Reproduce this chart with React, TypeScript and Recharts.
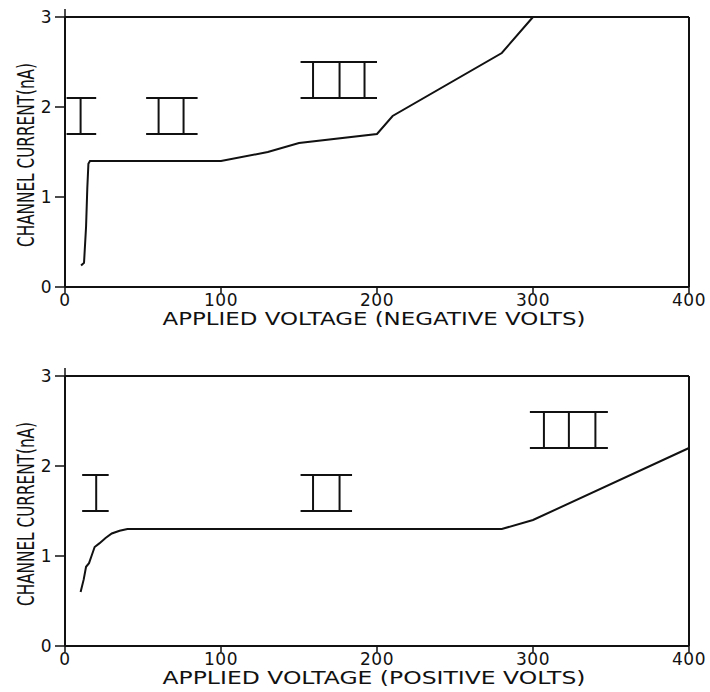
import React from 'react'
import { LineChart, Line, XAxis, YAxis, ReferenceLine, Label } from 'recharts'

// negative polarity sweep (top panel)
const negVolts = [10.3, 12.2, 13.5, 14.3, 15, 16, 100, 130, 150, 200, 210, 280, 300]
const negCurrent = [0.24, 0.27, 0.67, 1.1, 1.37, 1.4, 1.4, 1.5, 1.6, 1.7, 1.9, 2.6, 3.0]

// positive polarity sweep (bottom panel)
const posVolts = [10, 12, 13.5, 15.4, 17, 19, 22, 26, 30, 35, 40, 280, 300, 400]
const posCurrent = [0.6, 0.74, 0.88, 0.92, 1.0, 1.1, 1.14, 1.2, 1.25, 1.28, 1.3, 1.3, 1.4, 2.2]

const xTicks = [0, 100, 200, 300, 400]
const yTicks = [0, 1, 2, 3]

// conductance level glyphs: cap span, bottom/top current, post positions
const negBeams = [
  { from: 1, to: 20, low: 1.7, high: 2.1, posts: [10] },
  { from: 52, to: 85, low: 1.7, high: 2.1, posts: [60, 76] },
  { from: 151, to: 200, low: 2.1, high: 2.5, posts: [159, 176, 192] },
]
const posBeams = [
  { from: 11, to: 28, low: 1.5, high: 1.9, posts: [20] },
  { from: 151, to: 184, low: 1.5, high: 1.9, posts: [159, 176] },
  { from: 298, to: 348, low: 2.2, high: 2.6, posts: [307, 323, 340] },
]

const FONT = '"DejaVu Sans", sans-serif'
const black = '#111'

type Beam = { from: number; to: number; low: number; high: number; posts: number[] }

const toRows = (xs: number[], ys: number[]) => xs.map((v, i) => ({ v, c: ys[i] }))

function beamSegments(b: Beam) {
  const segs = [
    [{ x: b.from, y: b.high }, { x: b.to, y: b.high }],
    [{ x: b.from, y: b.low }, { x: b.to, y: b.low }],
  ]
  b.posts.forEach((p) => segs.push([{ x: p, y: b.low }, { x: p, y: b.high }]))
  return segs
}

function Panel({ data, beams, xLabel }: { data: { v: number; c: number }[]; beams: Beam[]; xLabel: string }) {
  const tickStyle = { fontSize: 17, fill: black, fontFamily: FONT, letterSpacing: 0.5 }
  return (
    <LineChart width={710} height={333} data={data} margin={{ top: 7, right: 6, bottom: 6, left: 20 }}>
      <XAxis
        dataKey="v"
        type="number"
        domain={[0, 400]}
        ticks={xTicks}
        height={40}
        tickSize={6}
        tickMargin={1}
        axisLine={{ stroke: black, strokeWidth: 2 }}
        tickLine={{ stroke: black, strokeWidth: 1.5 }}
        tick={tickStyle}
        interval={0}
      >
        <Label
          content={({ viewBox }: any) => (
            <text
              x={viewBox.x + viewBox.width / 2 - 3}
              y={viewBox.y + 38}
              textAnchor="middle"
              fontSize={17}
              fontFamily={FONT}
              fill={black}
              textLength={423}
              lengthAdjust="spacingAndGlyphs"
            >
              {xLabel}
            </text>
          )}
        />
      </XAxis>
      <XAxis
        xAxisId="t"
        orientation="top"
        type="number"
        domain={[0, 400]}
        ticks={xTicks}
        height={10}
        tickSize={8}
        axisLine={{ stroke: black, strokeWidth: 2 }}
        tickLine={{ stroke: black, strokeWidth: 1.5 }}
        tickFormatter={() => ''}
        interval={0}
      />
      <YAxis
        type="number"
        domain={[0, 3]}
        ticks={yTicks}
        width={45}
        tickSize={10}
        tickMargin={3}
        axisLine={{ stroke: black, strokeWidth: 2 }}
        tickLine={{ stroke: black, strokeWidth: 1.5 }}
        tick={tickStyle}
        interval={0}
      >
        <Label
          content={({ viewBox }: any) => {
            const cx = viewBox.x + 6
            const cy = 155
            return (
              <text
                x={cx}
                y={cy}
                transform={`rotate(-90, ${cx}, ${cy})`}
                textAnchor="middle"
                dominantBaseline="central"
                fontSize={23}
                fontFamily={FONT}
                fill={black}
                textLength={184}
                lengthAdjust="spacingAndGlyphs"
              >
                CHANNEL CURRENT(nA)
              </text>
            )
          }}
        />
      </YAxis>
      <YAxis
        yAxisId="r"
        orientation="right"
        type="number"
        domain={[0, 3]}
        ticks={yTicks}
        width={15}
        tickSize={10}
        axisLine={{ stroke: black, strokeWidth: 2 }}
        tickLine={{ stroke: black, strokeWidth: 1.5 }}
        tickFormatter={() => ''}
        interval={0}
      />
      {beams.flatMap((b, bi) =>
        beamSegments(b).map((seg, si) => (
          <ReferenceLine key={`${bi}-${si}`} segment={seg} stroke={black} strokeWidth={2} ifOverflow="visible" />
        ))
      )}
      <Line
        dataKey="c"
        type="linear"
        stroke={black}
        strokeWidth={2}
        dot={false}
        activeDot={false}
        isAnimationActive={false}
      />
    </LineChart>
  )
}

export default function App() {
  return (
    <div
      style={{
        position: 'absolute',
        left: 0,
        top: 0,
        width: 710,
        height: 692,
        overflow: 'hidden',
        background: '#fff',
        fontFamily: FONT,
      }}
    >
      <div style={{ position: 'absolute', left: 0, top: 0 }}>
        <Panel data={toRows(negVolts, negCurrent)} beams={negBeams} xLabel="APPLIED VOLTAGE (NEGATIVE VOLTS)" />
      </div>
      <div style={{ position: 'absolute', left: 0, top: 359 }}>
        <Panel data={toRows(posVolts, posCurrent)} beams={posBeams} xLabel="APPLIED VOLTAGE (POSITIVE VOLTS)" />
      </div>
    </div>
  )
}
